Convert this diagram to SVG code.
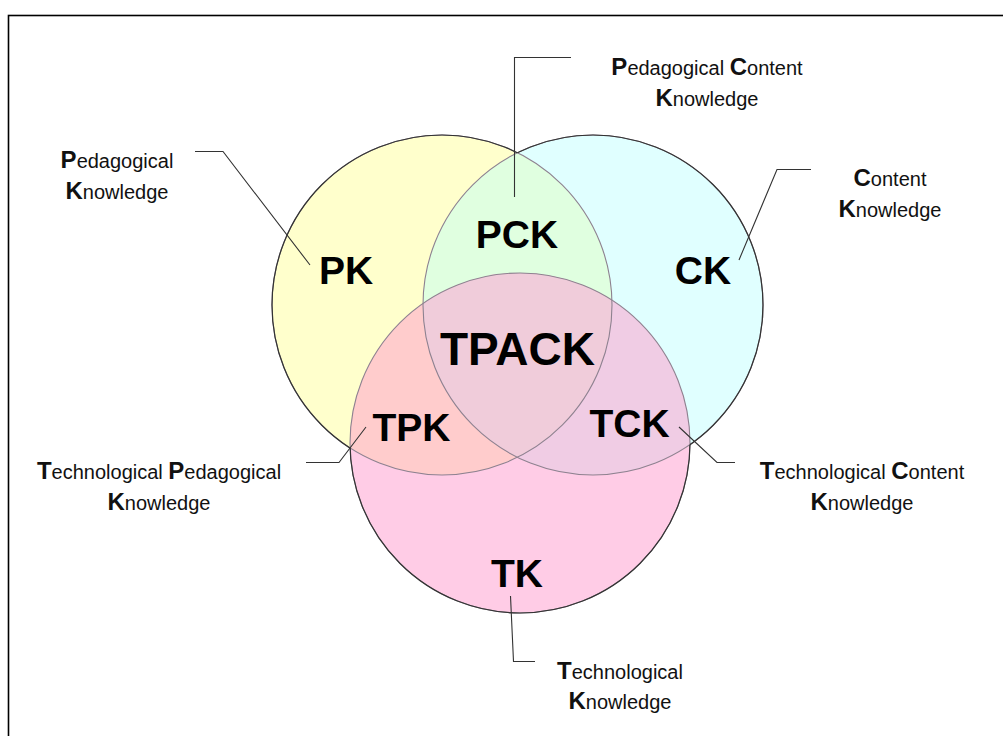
<svg xmlns="http://www.w3.org/2000/svg" width="1003" height="736" viewBox="0 0 1003 736">
<style>
.big{font-family:"Liberation Sans",Arial,sans-serif;font-weight:bold;font-size:39px;fill:#000;text-anchor:middle}
.lab{font-family:"Liberation Sans",Arial,sans-serif;font-size:20px;fill:#111;text-anchor:middle}
.ini{font-weight:bold;font-size:24px}
.lead{fill:none;stroke:#333;stroke-width:1.1}
.inner{fill:none;stroke:#8e8290;stroke-width:1.1}
.outer{fill:none;stroke:#333;stroke-width:1.2}
</style>
<defs>
<clipPath id="cY"><circle cx="442" cy="305" r="170"/></clipPath>
<clipPath id="cC"><circle cx="593" cy="305" r="170"/></clipPath>
<mask id="mY"><rect width="1003" height="736" fill="#fff"/><circle cx="593" cy="305" r="170" fill="#000"/><circle cx="520" cy="443" r="170" fill="#000"/></mask>
<mask id="mC"><rect width="1003" height="736" fill="#fff"/><circle cx="442" cy="305" r="170" fill="#000"/><circle cx="520" cy="443" r="170" fill="#000"/></mask>
<mask id="mT"><rect width="1003" height="736" fill="#fff"/><circle cx="442" cy="305" r="170" fill="#000"/><circle cx="593" cy="305" r="170" fill="#000"/></mask>
</defs>
<rect width="1003" height="736" fill="#fff"/>
<rect x="8.5" y="15.5" width="1000" height="730" fill="none" stroke="#000" stroke-width="1.6"/>

<g id="circles">
<circle cx="442" cy="305" r="170" fill="#FFFFCC"/>
<circle cx="593" cy="305" r="170" fill="#E0FFFF"/>
<circle cx="520" cy="443" r="170" fill="#FFCCE6"/>
<circle cx="593" cy="305" r="170" fill="#E0FFE0" clip-path="url(#cY)"/>
<circle cx="520" cy="443" r="170" fill="#FFCCCC" clip-path="url(#cY)"/>
<circle cx="520" cy="443" r="170" fill="#F0CCE4" clip-path="url(#cC)"/>
<g clip-path="url(#cY)"><circle cx="520" cy="443" r="170" fill="#F0CCDA" clip-path="url(#cC)"/></g>
<circle cx="442" cy="305" r="170" class="inner"/>
<circle cx="593" cy="305" r="170" class="inner"/>
<circle cx="520" cy="443" r="170" class="inner"/>
<circle cx="442" cy="305" r="170" class="outer" mask="url(#mY)"/>
<circle cx="593" cy="305" r="170" class="outer" mask="url(#mC)"/>
<circle cx="520" cy="443" r="170" class="outer" mask="url(#mT)"/>
</g>

<g id="connectors">
<polyline class="lead" points="195,151.5 223,151.5 310,265"/>
<polyline class="lead" points="571,57.5 514.5,57.5 514.5,197"/>
<polyline class="lead" points="811,169.5 777,169.5 739,260"/>
<polyline class="lead" points="306,462.5 339,462.5 366,427"/>
<polyline class="lead" points="679,427 717,462.5 735,462.5"/>
<polyline class="lead" points="510.5,596 513.5,661.5 535,661.5"/>
</g>

<g id="PK"><text class="big" x="346" y="284">PK</text>
<text class="lab" x="117" y="168"><tspan class="ini">P</tspan>edagogical</text>
<text class="lab" x="117" y="199"><tspan class="ini">K</tspan>nowledge</text></g>
<g id="PCK"><text class="big" x="517" y="248">PCK</text>
<text class="lab" x="707" y="75"><tspan class="ini">P</tspan>edagogical <tspan class="ini">C</tspan>ontent</text>
<text class="lab" x="707" y="106"><tspan class="ini">K</tspan>nowledge</text></g>
<g id="CK"><text class="big" x="703" y="284">CK</text>
<text class="lab" x="890" y="186"><tspan class="ini">C</tspan>ontent</text>
<text class="lab" x="890" y="217"><tspan class="ini">K</tspan>nowledge</text></g>
<g id="TPACK"><text class="big" x="517.5" y="365" style="font-size:46px">TPACK</text></g>
<g id="TPK"><text class="big" x="411.5" y="441">TPK</text>
<text class="lab" x="159" y="479"><tspan class="ini">T</tspan>echnological <tspan class="ini">P</tspan>edagogical</text>
<text class="lab" x="159" y="510"><tspan class="ini">K</tspan>nowledge</text></g>
<g id="TCK"><text class="big" x="629.5" y="437">TCK</text>
<text class="lab" x="862" y="479"><tspan class="ini">T</tspan>echnological <tspan class="ini">C</tspan>ontent</text>
<text class="lab" x="862" y="510"><tspan class="ini">K</tspan>nowledge</text></g>
<g id="TK"><text class="big" x="517" y="587">TK</text>
<text class="lab" x="620" y="679"><tspan class="ini">T</tspan>echnological</text>
<text class="lab" x="620" y="709"><tspan class="ini">K</tspan>nowledge</text></g>
</svg>
